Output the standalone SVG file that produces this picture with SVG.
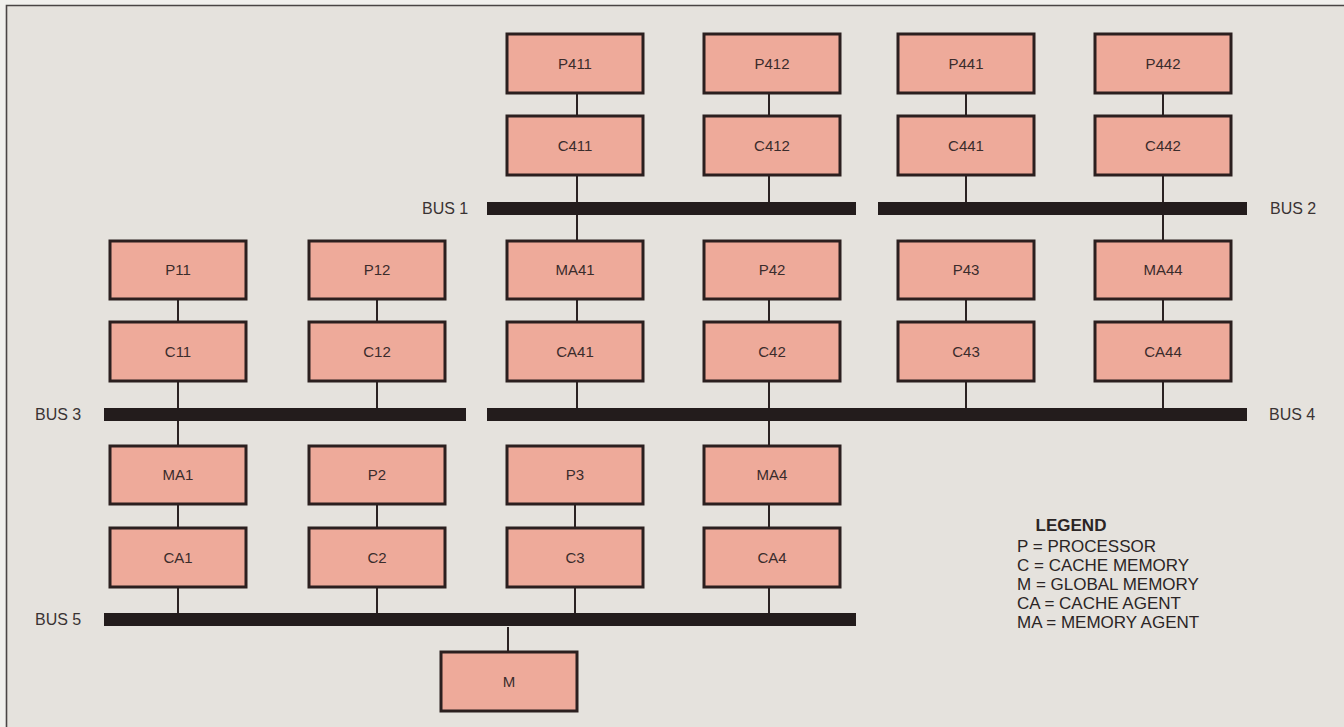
<svg xmlns="http://www.w3.org/2000/svg" width="1344" height="727" viewBox="0 0 1344 727">
<style>
.bx{fill:#eeaa9a;stroke:#2b1f1f;stroke-width:3}
.lb{font-family:"Liberation Sans",Arial,sans-serif;font-size:15px;fill:#3a2c2c;text-anchor:middle}
.bus{fill:#231c1c}
.bl{font-family:"Liberation Sans",Arial,sans-serif;font-size:16px;fill:#3a3333}
.cn{stroke:#2b2222;stroke-width:2;fill:none}
.lg{font-family:"Liberation Sans",Arial,sans-serif;font-size:17px;fill:#2b2525}
</style>
<rect x="0" y="0" width="1344" height="727" fill="#f1f0ed"/>
<rect x="7" y="6" width="1337" height="721" fill="#e5e2dd"/>
<path d="M6.5 727 V5.5 H1344" fill="none" stroke="#4a4545" stroke-width="1.6"/>

<g id="connectors">
<path class="cn" d="M178 299V322 M178 381V408 M178 421V446 M178 504V528 M178 587V613"/>
<path class="cn" d="M377 299V322 M377 381V408 M377 504V528 M377 587V613"/>
<path class="cn" d="M577 93V116 M577 175V202 M577 215V241 M577 299V322 M577 381V408"/>
<path class="cn" d="M575 504V528 M575 587V613"/>
<path class="cn" d="M769 93V116 M769 175V202 M769 299V322 M769 381V408 M769 421V446 M769 504V528 M769 587V613"/>
<path class="cn" d="M966 93V116 M966 175V202 M966 299V322 M966 381V408"/>
<path class="cn" d="M1163 93V116 M1163 175V202 M1163 215V241 M1163 299V322 M1163 381V408"/>
<path class="cn" d="M508 627V652"/>
</g>

<g id="bus1"><rect class="bus" x="487" y="202" width="369" height="13"/><text class="bl" x="422" y="214">BUS 1</text></g>
<g id="bus2"><rect class="bus" x="878" y="202" width="369" height="13"/><text class="bl" x="1270" y="214">BUS 2</text></g>
<g id="bus3"><rect class="bus" x="104" y="408" width="362" height="13"/><text class="bl" x="35" y="420">BUS 3</text></g>
<g id="bus4"><rect class="bus" x="487" y="408" width="760" height="13"/><text class="bl" x="1269" y="420">BUS 4</text></g>
<g id="bus5"><rect class="bus" x="104" y="613" width="752" height="13"/><text class="bl" x="35" y="625">BUS 5</text></g>

<g id="P411"><rect class="bx" x="507" y="34" width="136" height="59"/><text class="lb" x="575" y="69">P411</text></g>
<g id="P412"><rect class="bx" x="704" y="34" width="136" height="59"/><text class="lb" x="772" y="69">P412</text></g>
<g id="P441"><rect class="bx" x="898" y="34" width="136" height="59"/><text class="lb" x="966" y="69">P441</text></g>
<g id="P442"><rect class="bx" x="1095" y="34" width="136" height="59"/><text class="lb" x="1163" y="69">P442</text></g>

<g id="C411"><rect class="bx" x="507" y="116" width="136" height="59"/><text class="lb" x="575" y="151">C411</text></g>
<g id="C412"><rect class="bx" x="704" y="116" width="136" height="59"/><text class="lb" x="772" y="151">C412</text></g>
<g id="C441"><rect class="bx" x="898" y="116" width="136" height="59"/><text class="lb" x="966" y="151">C441</text></g>
<g id="C442"><rect class="bx" x="1095" y="116" width="136" height="59"/><text class="lb" x="1163" y="151">C442</text></g>

<g id="P11"><rect class="bx" x="110" y="241" width="136" height="58"/><text class="lb" x="178" y="275">P11</text></g>
<g id="P12"><rect class="bx" x="309" y="241" width="136" height="58"/><text class="lb" x="377" y="275">P12</text></g>
<g id="MA41"><rect class="bx" x="507" y="241" width="136" height="58"/><text class="lb" x="575" y="275">MA41</text></g>
<g id="P42"><rect class="bx" x="704" y="241" width="136" height="58"/><text class="lb" x="772" y="275">P42</text></g>
<g id="P43"><rect class="bx" x="898" y="241" width="136" height="58"/><text class="lb" x="966" y="275">P43</text></g>
<g id="MA44"><rect class="bx" x="1095" y="241" width="136" height="58"/><text class="lb" x="1163" y="275">MA44</text></g>

<g id="C11"><rect class="bx" x="110" y="322" width="136" height="59"/><text class="lb" x="178" y="357">C11</text></g>
<g id="C12"><rect class="bx" x="309" y="322" width="136" height="59"/><text class="lb" x="377" y="357">C12</text></g>
<g id="CA41"><rect class="bx" x="507" y="322" width="136" height="59"/><text class="lb" x="575" y="357">CA41</text></g>
<g id="C42"><rect class="bx" x="704" y="322" width="136" height="59"/><text class="lb" x="772" y="357">C42</text></g>
<g id="C43"><rect class="bx" x="898" y="322" width="136" height="59"/><text class="lb" x="966" y="357">C43</text></g>
<g id="CA44"><rect class="bx" x="1095" y="322" width="136" height="59"/><text class="lb" x="1163" y="357">CA44</text></g>

<g id="MA1"><rect class="bx" x="110" y="446" width="136" height="58"/><text class="lb" x="178" y="480">MA1</text></g>
<g id="P2"><rect class="bx" x="309" y="446" width="136" height="58"/><text class="lb" x="377" y="480">P2</text></g>
<g id="P3"><rect class="bx" x="507" y="446" width="136" height="58"/><text class="lb" x="575" y="480">P3</text></g>
<g id="MA4"><rect class="bx" x="704" y="446" width="136" height="58"/><text class="lb" x="772" y="480">MA4</text></g>

<g id="CA1"><rect class="bx" x="110" y="528" width="136" height="59"/><text class="lb" x="178" y="563">CA1</text></g>
<g id="C2"><rect class="bx" x="309" y="528" width="136" height="59"/><text class="lb" x="377" y="563">C2</text></g>
<g id="C3"><rect class="bx" x="507" y="528" width="136" height="59"/><text class="lb" x="575" y="563">C3</text></g>
<g id="CA4"><rect class="bx" x="704" y="528" width="136" height="59"/><text class="lb" x="772" y="563">CA4</text></g>

<g id="M"><rect class="bx" x="441" y="652" width="136" height="59"/><text class="lb" x="509" y="687">M</text></g>

<g id="legend">
<text class="lg" x="1071" y="531" text-anchor="middle" font-weight="bold" font-size="15px">LEGEND</text>
<text class="lg" x="1017" y="552">P = PROCESSOR</text>
<text class="lg" x="1017" y="571">C = CACHE MEMORY</text>
<text class="lg" x="1017" y="590">M = GLOBAL MEMORY</text>
<text class="lg" x="1017" y="609">CA = CACHE AGENT</text>
<text class="lg" x="1017" y="628">MA = MEMORY AGENT</text>
</g>
</svg>
